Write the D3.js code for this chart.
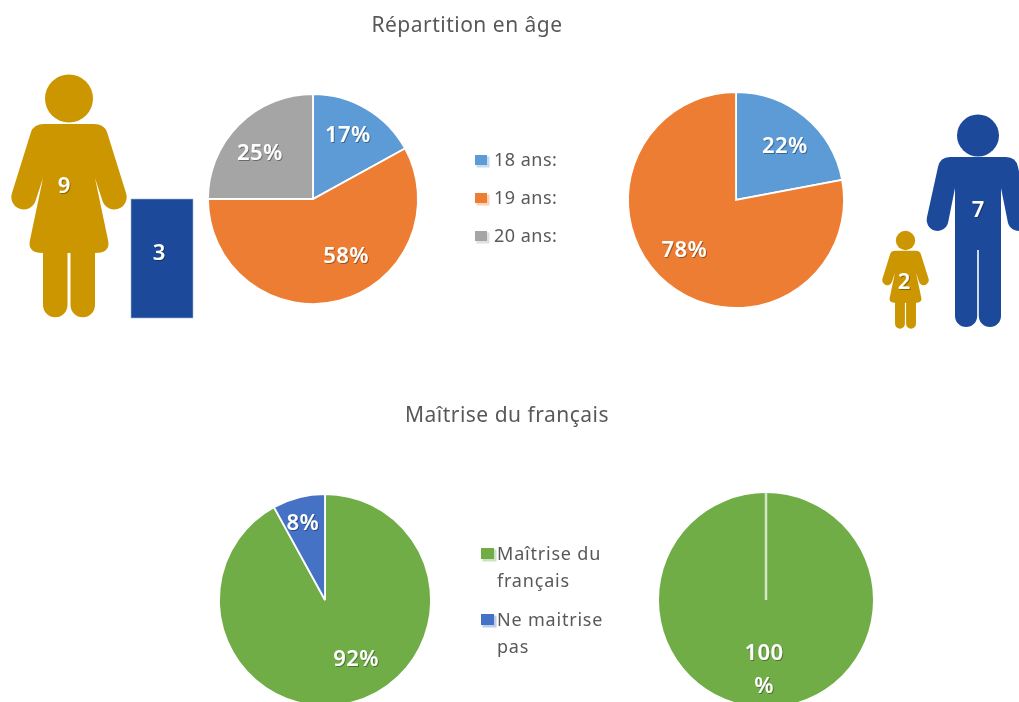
<!DOCTYPE html>
<html lang="fr">
<head>
<meta charset="utf-8">
<script src="https://cdn.jsdelivr.net/npm/d3@7"></script>
<style>
html,body{margin:0;padding:0;background:#fff;overflow:hidden}
svg{display:block}
text{font-family:"Noto Sans",sans-serif}
</style>
</head>
<body>
<svg id="chart" width="1019" height="702" viewBox="0 0 1019 702"></svg>
<script>
// ---- data ----
const titles = ["Répartition en âge", "Maîtrise du français"];
const ageCategories = ["18 ans:", "19 ans:", "20 ans:"];
const ageWomen = [17, 58, 25];
const ageMen = [22, 78, 0];
const frenchCategories = [["Maîtrise du", "français"], ["Ne maitrise", "pas"]];
const frenchWomen = [92, 8];
const frenchMen = [100, 0];
const countWomen19 = 9;
const countMen19 = 3;
const countWomen2 = 2;
const countMen7 = 7;

// ---- style & layout ----
const ageColors = ["#5B9BD5", "#ED7D31", "#A5A5A5"];
const frenchColors = ["#70AD47", "#4472C4"];
const gold = "#CC9600", navy = "#1C4A9A";
const pies = [
  {values: ageWomen, colors: ageColors, cx: 313, cy: 199, r: 105, shift: [[0,-6],[16,-10],[-5,2]]},
  {values: ageMen, colors: ageColors, cx: 736, cy: 200, r: 108, shift: [[4,-1],[-7,-5],[0,0]]},
  {values: frenchWomen, colors: frenchColors, cx: 325, cy: 600, r: 106, shift: [[14,-8],[-5,-11]]},
  {values: frenchMen, colors: frenchColors, cx: 766, cy: 600, r: 107, shift: [[-2,-17],[0,0]], wrap: true}
];
const womanBody = "M-25 49L25 49Q35 49 38 57L57 118A12.400 12.400 0 0 1 33.500 126L26 103L39 165Q42 178 26 178L26 230A12.250 12.250 0 0 1 1.500 230L1.500 178L-1.500 178L-1.500 230A12.250 12.250 0 0 1 -26 230L-26 178Q-42 178 -39 165L-26 103L-33.500 126A12.400 12.400 0 0 1 -57 118L-38 57Q-35 49 -25 49Z";
const manBody = "M-28 42L28 42Q38 42 40 52L51 102A10.900 10.900 0 0 1 30 108L23 73L23 201A11.100 11.100 0 0 1 0.800 201L0.800 135L-0.800 135L-0.800 201A11.100 11.100 0 0 1 -23 201L-23 73L-30 108A10.900 10.900 0 0 1 -51 102L-40 52Q-38 42 -28 42Z";
const figures = [
  {body: womanBody, color: gold, x: 69, y: 75, k: 1, headY: 23.5, headR: 24, value: countWomen19, lx: 64, ly: 185},
  {body: womanBody, color: gold, x: 905.500, y: 231, k: 0.403, headY: 23.5, headR: 24, value: countWomen2, lx: 904, ly: 281},
  {body: manBody, color: navy, x: 978, y: 115, k: 1, headY: 20.5, headR: 21, value: countMen7, lx: 978, ly: 209}
];

const svg = d3.select("#chart");
const defs = svg.append("defs");
defs.append("filter").attr("id", "soft").attr("x", "-5%").attr("y", "-5%").attr("width", "110%").attr("height", "110%")
  .append("feGaussianBlur").attr("stdDeviation", 0.55);
const shadow = defs.append("filter").attr("id", "labelShadow").attr("x", "-30%").attr("y", "-30%").attr("width", "160%").attr("height", "160%");
shadow.append("feDropShadow").attr("dx", 1).attr("dy", 1).attr("stdDeviation", 0.6).attr("flood-color", "#000").attr("flood-opacity", 0.35);

const root = svg.append("g").attr("filter", "url(#soft)");

// titles
root.selectAll("text.title").data(titles).join("text").attr("class", "title")
  .attr("x", (d, i) => [467, 507][i])
  .attr("y", (d, i) => [25, 415][i])
  .attr("dy", "0.35em").attr("text-anchor", "middle")
  .attr("font-size", 21).attr("letter-spacing", 0.5).attr("fill", "#595959").text(d => d);

// pies
const pie = d3.pie().sort(null).value(d => d);
pies.forEach(p => {
  const g = root.append("g").attr("transform", `translate(${p.cx},${p.cy})`);
  const arc = d3.arc().innerRadius(0).outerRadius(p.r);
  const labelArc = d3.arc().innerRadius(p.r * 0.65).outerRadius(p.r * 0.65);
  const arcs = pie(p.values);
  const isFull = p.values.includes(100);
  g.selectAll("path").data(arcs.filter(a => a.value > 0 || isFull)).join("path")
    .attr("d", arc)
    .attr("fill", d => p.colors[d.index])
    .attr("stroke", d => (isFull ? "#D4E6C8" : "#fff"))
    .attr("stroke-width", d => (isFull ? (d.value > 0 ? 0 : 2.5) : 1.8));
  const labels = g.selectAll("text").data(arcs.filter(a => a.value > 0)).join("text")
    .attr("transform", d => {
      const [x, y] = labelArc.centroid(d);
      const s = p.shift[d.index];
      return `translate(${x + s[0]},${y + s[1]})`;
    })
    .attr("text-anchor", "middle").attr("font-size", 22).attr("font-weight", 600).attr("letter-spacing", 0.4)
    .attr("fill", "#fff").attr("filter", "url(#labelShadow)");
  labels.each(function(d) {
    const t = d3.select(this);
    if (p.wrap) {
      t.append("tspan").attr("x", 0).attr("y", 0).attr("dy", "0.35em").text(d.value);
      t.append("tspan").attr("x", 0).attr("y", 33).attr("dy", "0.35em").text("%");
    } else {
      t.attr("dy", "0.35em").text(d.value + "%");
    }
  });
});

// swatch with the pale offset edge seen in the reference
function swatch(parent, x, y, w, h, color) {
  parent.append("rect").attr("x", x + 1.5).attr("y", y + 1.5).attr("width", w + 1).attr("height", h + 1)
    .attr("fill", d3.interpolateRgb(color, "#fff")(0.65));
  parent.append("rect").attr("x", x).attr("y", y).attr("width", w).attr("height", h).attr("fill", color);
}

// age legend
const ageLegend = root.append("g");
const ageY = d3.scalePoint().domain(ageCategories).range([160, 236]);
ageCategories.forEach((c, i) => {
  swatch(ageLegend, 475, ageY(c) - 5, 12, 10, ageColors[i]);
  ageLegend.append("text").attr("x", 494).attr("y", ageY(c)).attr("dy", "0.35em")
    .attr("font-size", 18).attr("letter-spacing", 0.5).attr("fill", "#595959").text(c);
});

// french legend
const frLegend = root.append("g");
const frY = [554, 620];
frenchCategories.forEach((lines, i) => {
  swatch(frLegend, 481, frY[i] - 6, 13, 11, frenchColors[i]);
  lines.forEach((line, j) => {
    frLegend.append("text").attr("x", 497).attr("y", frY[i] + j * 27).attr("dy", "0.35em")
      .attr("font-size", 18).attr("letter-spacing", 0.8).attr("fill", "#595959").text(line);
  });
});

// pictograms
figures.forEach(f => {
  const g = root.append("g").attr("transform", `translate(${f.x},${f.y}) scale(${f.k})`);
  g.append("circle").attr("cx", 0).attr("cy", f.headY).attr("r", f.headR).attr("fill", f.color);
  g.append("path").attr("d", f.body).attr("fill", f.color);
  root.append("text").attr("x", f.lx).attr("y", f.ly).attr("dy", "0.35em").attr("text-anchor", "middle")
    .attr("font-size", 22).attr("font-weight", 600).attr("fill", "#fff").attr("filter", "url(#labelShadow)").text(f.value);
});

// bar for the count of 19 men
const barY = d3.scaleLinear().domain([0, countMen19]).range([318, 199]);
root.append("rect").attr("x", 131).attr("width", 62)
  .attr("y", barY(countMen19)).attr("height", barY(0) - barY(countMen19))
  .attr("fill", navy).attr("stroke", "#9DB5D8").attr("stroke-width", 0.6);
root.append("text").attr("x", 159).attr("y", 252).attr("dy", "0.35em").attr("text-anchor", "middle")
  .attr("font-size", 22).attr("font-weight", 600).attr("fill", "#fff").attr("filter", "url(#labelShadow)").text(countMen19);
</script>
</body>
</html>
